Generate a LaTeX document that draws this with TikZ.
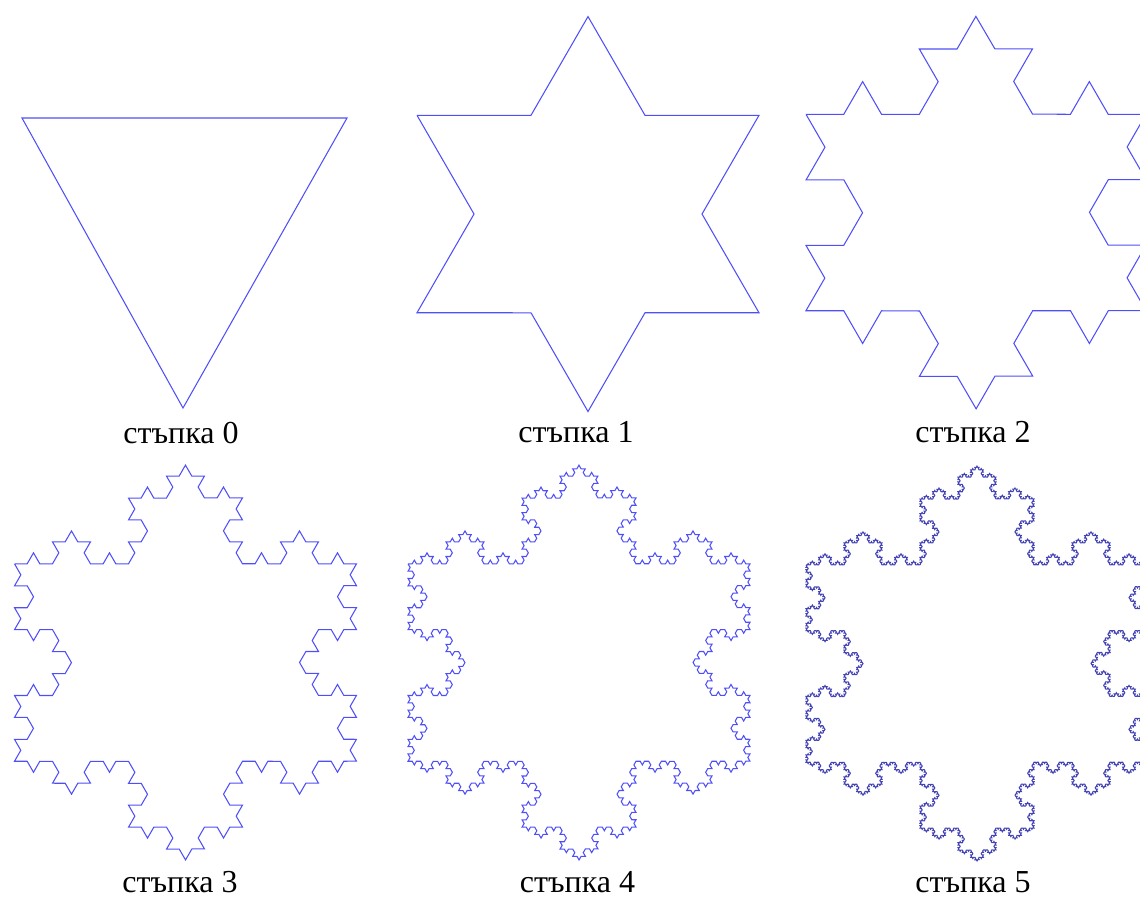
\documentclass[tikz,border=0pt]{standalone}
\usepackage{fontspec}
\setmainfont{Liberation Serif}
\usetikzlibrary{decorations.fractals}
\definecolor{kochBlue}{HTML}{4F4FFA}
\definecolor{kochDeep}{HTML}{4343B4}

\begin{document}
\begin{tikzpicture}[x=1pt, y=-1pt,
  koch/.style={draw=kochBlue, line width=1.05pt, decoration=Koch snowflake},
  steplabel/.style={anchor=base, inner sep=0pt, font=\fontsize{32}{38}\selectfont}]
  \fill[white] (0,0) rectangle (1140,899);
  \useasboundingbox (0,0) rectangle (1140,899);
  \clip (0,0) rectangle (1140,899);

  % step 0
  \draw[koch] (22,118) -- (347,118) -- (183,408) -- cycle;
  \node[steplabel] (lbl0) at (181,443) {стъпка 0};

  % step 1
  \begin{scope}[shift={(588,214)}]
    \draw[koch] decorate{(-171,-98.7) -- (171,-98.7) -- (0,197.5) -- (-171,-98.7)};
  \end{scope}
  \node[steplabel] (lbl1) at (576,442) {стъпка 1};

  % step 2
  \begin{scope}[shift={(976,212.5)}]
    \draw[koch] decorate{decorate{(-170,-98.2) -- (170,-98.2) -- (0,196.5) -- (-170,-98.2)}};
  \end{scope}
  \node[steplabel] (lbl2) at (973,442) {стъпка 2};

  % step 3
  \begin{scope}[shift={(185.5,662.5)}]
    \draw[koch] decorate{decorate{decorate{(-171,-98.7) -- (171,-98.7) -- (0,197.5) -- (-171,-98.7)}}};
  \end{scope}
  \node[steplabel] (lbl3) at (180,892) {стъпка 3};

  % step 4
  \begin{scope}[shift={(579,662.5)}]
    \draw[koch] decorate{decorate{decorate{decorate{(-171,-98.7) -- (171,-98.7) -- (0,197.5) -- (-171,-98.7)}}}};
  \end{scope}
  \node[steplabel] (lbl4) at (577.5,892) {стъпка 4};

  % step 5
  \begin{scope}[shift={(977,663.5)}]
    \draw[koch, draw=kochDeep] decorate{decorate{decorate{decorate{decorate{(-171,-98.7) -- (171,-98.7) -- (0,197.5) -- (-171,-98.7)}}}}};
  \end{scope}
  \node[steplabel] (lbl5) at (973,892) {стъпка 5};
\end{tikzpicture}
\end{document}
